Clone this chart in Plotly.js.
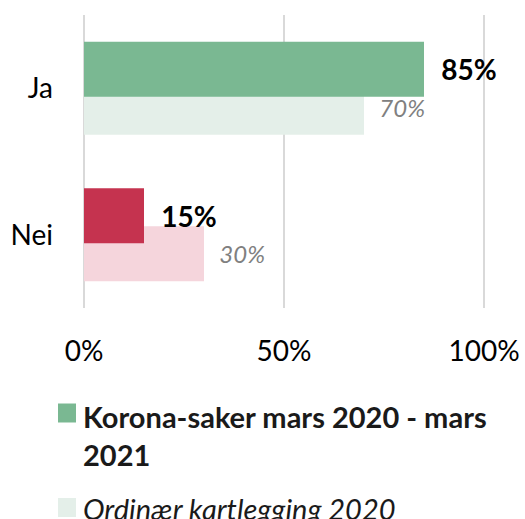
<!DOCTYPE html>
<html>
<head>
<meta charset="utf-8">
<script src="https://cdn.plot.ly/plotly-3.0.1.min.js"></script>
<style>
html,body{margin:0;padding:0;background:#fff;}
#chart{width:525px;height:519px;}
</style>
</head>
<body>
<div id="chart"></div>
<script>
// ---- data ----
const categories = ['Ja', 'Nei'];
const koronaValues = [85, 15];
const ordinaerValues = [70, 30];
const seriesNames = ['Korona-saker mars 2020 - mars 2021', 'Ordinær kartlegging 2020'];
const tickValues = [0, 50, 100];
const tickLabels = ['0%', '50%', '100%'];

// ---- styles ----
const FONT = 'Lato, "Open Sans", "Liberation Sans", sans-serif';
const koronaColors = ['#7ab892', '#c5334f'];
const ordinaerColors = ['#e4efe9', '#f5d5dc'];
const legendColors = ['#7ab892', '#e4efe9'];

const X_MIN = -2, X_MAX = 102;
const PLOT_TOP = 15, PLOT_BOTTOM = 308, PLOT_LEFT = 76, PLOT_RIGHT = 492;
const px2py = py => (PLOT_BOTTOM - py) / (PLOT_BOTTOM - PLOT_TOP);
const px2px = px => (px - PLOT_LEFT) / (PLOT_RIGHT - PLOT_LEFT);

const traces = [
  {
    type: 'bar', orientation: 'h', name: seriesNames[1],
    y: categories, x: ordinaerValues,
    marker: {color: ordinaerColors},
    width: 0.375, offset: -0.058,
    texttemplate: '\u00a0\u00a0<i>%{x}%</i>', textposition: 'outside',
    textfont: {family: FONT, size: 24, color: '#808080'},
    cliponaxis: false, constraintext: 'none', hoverinfo: 'skip', showlegend: false
  },
  {
    type: 'bar', orientation: 'h', name: seriesNames[0],
    y: categories, x: koronaValues,
    marker: {color: koronaColors},
    width: 0.375, offset: -0.317,
    texttemplate: '\u00a0\u00a0<b>%{x}%</b>', textposition: 'outside',
    textfont: {family: FONT, size: 28, color: '#000000'},
    cliponaxis: false, constraintext: 'none', hoverinfo: 'skip', showlegend: false
  }
];

// manual legend (symbol squares + labels)
const shapes = [];
const annotations = [];
const legendRows = [
  {py: 413, label: '<b>' + seriesNames[0].replace(/ (\S+)$/, '<br>$1') + '</b>', color: legendColors[0], textTop: 397},
  {py: 507.5, label: '<i>' + seriesNames[1] + '</i>', color: legendColors[1], textTop: 489}
];
legendRows.forEach(r => {
  shapes.push({
    type: 'rect', xref: 'paper', yref: 'paper',
    x0: px2px(58), x1: px2px(76), y0: px2py(r.py - 9.5), y1: px2py(r.py + 9.5),
    fillcolor: r.color, line: {width: 0}
  });
  annotations.push({
    xref: 'paper', yref: 'paper', x: px2px(81), y: px2py(r.textTop),
    xanchor: 'left', yanchor: 'top', align: 'left', showarrow: false,
    text: r.label, font: {family: FONT, size: 29, color: '#1a1a1a'}
  });
});

const layout = {
  width: 525, height: 519,
  margin: {l: PLOT_LEFT, r: 525 - PLOT_RIGHT, t: PLOT_TOP, b: 519 - PLOT_BOTTOM, pad: 0},
  paper_bgcolor: '#ffffff', plot_bgcolor: '#ffffff',
  barmode: 'overlay',
  showlegend: false,
  font: {family: FONT, color: '#000000'},
  xaxis: {
    range: [X_MIN, X_MAX], tickvals: tickValues, ticktext: tickLabels,
    showgrid: true, gridcolor: '#d9d9d9', gridwidth: 1.5, zeroline: false, showline: false,
    ticks: '', ticklabelstandoff: 24, tickfont: {family: FONT, size: 28, color: '#000000'},
    fixedrange: true
  },
  yaxis: {
    type: 'category', categoryorder: 'array', categoryarray: categories,
    range: [1.5, -0.5], showgrid: false, zeroline: false, showline: false,
    ticks: '', ticklabelstandoff: 22, tickfont: {family: FONT, size: 28, color: '#000000'},
    fixedrange: true
  },
  shapes: shapes,
  annotations: annotations
};

Plotly.newPlot('chart', traces, layout, {staticPlot: true, displayModeBar: false});
</script>
</body>
</html>
